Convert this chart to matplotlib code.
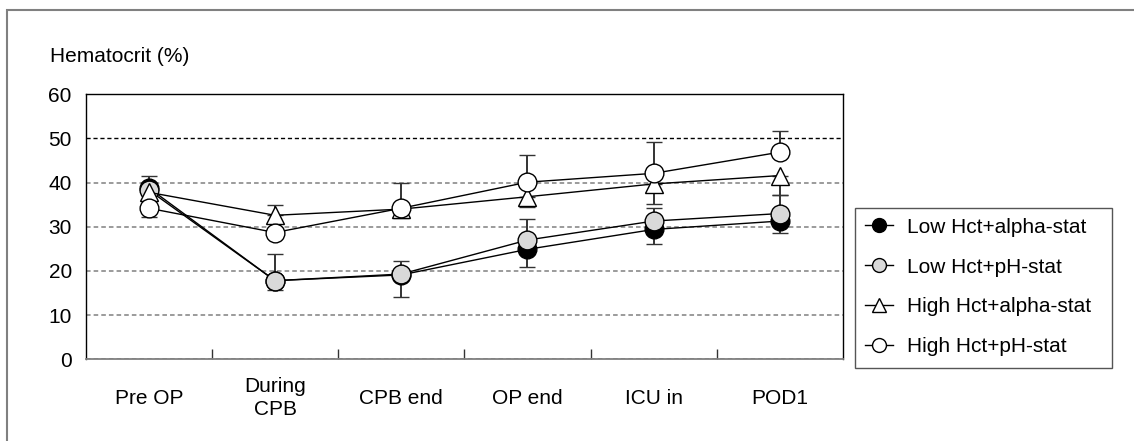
import numpy as np
import matplotlib.pyplot as plt
from matplotlib.patches import Rectangle
from matplotlib.lines import Line2D

plt.rcParams['font.family'] = ['Liberation Sans', 'DejaVu Sans']

categories = ['Pre OP', 'During\nCPB', 'CPB end', 'OP end', 'ICU in', 'POD1']

# mean values
low_alpha = [38.8, 17.8, 19.1, 24.9, 29.4, 31.3]
low_ph = [38.3, 17.8, 19.3, 27.0, 31.3, 33.0]
high_alpha = [37.8, 32.6, 34.0, 36.8, 39.7, 41.6]
high_ph = [34.2, 28.7, 34.2, 40.1, 42.1, 46.9]

# error bars (lower, upper), 0 = not drawn
low_alpha_dn = [0, 2.1, 5.0, 3.9, 3.3, 2.7]
low_alpha_up = [0, 0, 0, 0, 0, 0]
low_ph_dn = [0, 0, 0, 0, 0, 0]
low_ph_up = [3.2, 6.0, 3.0, 4.8, 2.9, 4.3]
high_alpha_dn = [0, 0, 2.0, 2.4, 4.5, 4.3]
high_alpha_up = [0, 2.4, 0, 0, 0, 0]
high_ph_dn = [2.0, 0, 0, 0, 0, 0]
high_ph_up = [0, 0, 5.8, 6.1, 7.1, 4.9]

series = [
    ('Low Hct+alpha-stat', low_alpha, low_alpha_dn, low_alpha_up, 'o', 'black'),
    ('Low Hct+pH-stat', low_ph, low_ph_dn, low_ph_up, 'o', '#d9d9d9'),
    ('High Hct+alpha-stat', high_alpha, high_alpha_dn, high_alpha_up, '^', 'white'),
    ('High Hct+pH-stat', high_ph, high_ph_dn, high_ph_up, 'o', 'white'),
]

fig = plt.figure(figsize=(11.34, 4.41), dpi=100)
ax = fig.add_axes([0.0756, 0.1853, 0.6678, 0.6009])

x = np.arange(len(categories))
handles = []
for name, vals, dn, up, mk, fc in series:
    ax.errorbar(x, vals, yerr=[dn, up], fmt='-', marker=mk, color='black',
                lw=1.0, ms=13.5, mfc=fc, mec='black', mew=1.0,
                ecolor='#333333', elinewidth=1.4, capsize=6, capthick=1.4)
    handles.append(Line2D([], [], color='black', lw=1.0, marker=mk, ms=10,
                          mfc=fc, mec='black', mew=1.0, label=name))

ax.set_xlim(-0.5, len(categories) - 0.5)
ax.set_ylim(0, 60)
ax.set_yticks(range(0, 61, 10))
ax.set_xticks(x)
ax.set_xticklabels(categories, fontsize=15, linespacing=1.25)
for lab in ax.get_xticklabels():
    lab.set_va('center')
ax.set_xticks(np.arange(0.5, len(categories) - 1, 1), minor=True)
ax.tick_params(axis='x', which='major', length=0, pad=28)
ax.tick_params(axis='x', which='minor', direction='in', length=7, width=1, color='#333333')
ax.tick_params(axis='y', length=0, pad=10, labelsize=15)

ax.grid(axis='y', color='#808080', linestyle=(0, (3, 2)), linewidth=1.1)
for val, gl in zip(ax.get_yticks(), ax.get_ygridlines()):
    if val == 50:
        gl.set_color('black')
        gl.set_linewidth(1.0)
ax.set_axisbelow(True)

for side in ['top', 'left', 'right']:
    ax.spines[side].set_color('black')
    ax.spines[side].set_linewidth(1.0)
ax.spines['bottom'].set_color('#808080')
ax.spines['bottom'].set_linewidth(1.3)

fig.text(50 / 1134, 1 - 57 / 441, 'Hematocrit (%)', fontsize=15, ha='left', va='center')

fig.legend(handles=handles, loc='center left',
           bbox_to_anchor=(865 / 1134, 1 - 287 / 441),
           fontsize=15, handlelength=1.35, handletextpad=0.65,
           labelspacing=1.0, borderpad=0, borderaxespad=0, frameon=False)

# legend frame
fig.patches.append(Rectangle((855 / 1134, 1 - 368 / 441), 257 / 1134, 160 / 441,
                             transform=fig.transFigure, fill=False,
                             edgecolor='#555555', linewidth=1.0))

# outer frame
fig.patches.append(Rectangle((7 / 1134, -0.2), 1.2, 1.2 - 10 / 441,
                             transform=fig.transFigure, fill=False,
                             edgecolor='#808080', linewidth=1.5))

fig.savefig('out.png', dpi=100)
